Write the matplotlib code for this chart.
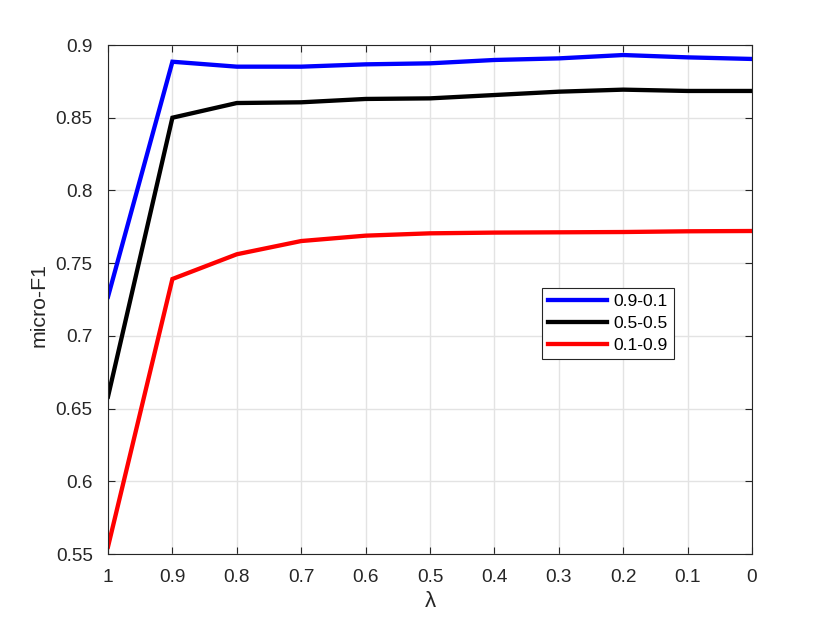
import matplotlib
matplotlib.use("Agg")
import matplotlib.pyplot as plt
import numpy as np

plt.rcParams['font.family'] = ['Liberation Sans', 'DejaVu Sans']

lam = [1.0, 0.9, 0.8, 0.7, 0.6, 0.5, 0.4, 0.3, 0.2, 0.1, 0.0]
s_09_01 = [0.7269, 0.8885, 0.8851, 0.8851, 0.8867, 0.8874, 0.8897, 0.8908, 0.8931, 0.8915, 0.8904]
s_05_05 = [0.6582, 0.8500, 0.8601, 0.8606, 0.8629, 0.8633, 0.8656, 0.8679, 0.8693, 0.8684, 0.8684]
s_01_09 = [0.5550, 0.7391, 0.7561, 0.7652, 0.7689, 0.7705, 0.7710, 0.7712, 0.7714, 0.7719, 0.7721]
series_names = ['0.9-0.1', '0.5-0.5', '0.1-0.9']
xticks = [1, 0.9, 0.8, 0.7, 0.6, 0.5, 0.4, 0.3, 0.2, 0.1, 0]
xticklabels = ['1', '0.9', '0.8', '0.7', '0.6', '0.5', '0.4', '0.3', '0.2', '0.1', '0']
yticks = [0.55, 0.6, 0.65, 0.7, 0.75, 0.8, 0.85, 0.9]
yticklabels = ['0.55', '0.6', '0.65', '0.7', '0.75', '0.8', '0.85', '0.9']

fig = plt.figure(figsize=(8.3, 6.23), dpi=100)
ax = fig.add_axes([108/830, 1-554/623, 644/830, 509/623])

colors = ['#0000ff', '#000000', '#ff0000']
for ys, c, n in zip([s_09_01, s_05_05, s_01_09], colors, series_names):
    ax.plot(lam, ys, color=c, lw=3.1, label=n, solid_joinstyle='miter')

ax.set_xlim(1, 0)
ax.set_ylim(0.55, 0.9)
ax.set_xticks(xticks)
ax.set_xticklabels(xticklabels)
ax.set_yticks(yticks)
ax.set_yticklabels(yticklabels)
ax.grid(True, color='#e3e3e3', lw=1.0)
ax.set_axisbelow(True)
for sp in ax.spines.values():
    sp.set_color('#262626')
    sp.set_linewidth(0.8)
ax.tick_params(direction='in', length=5, width=0.8, color='#262626',
               top=True, right=True, labelsize=13.7, labelcolor='#262626', pad=11)

ax.set_ylabel('micro-F1', fontsize=15.3, color='#262626')
ax.yaxis.set_label_coords(-0.092, 0.489)
ax.set_xlabel('λ', fontsize=16, color='#262626')
ax.xaxis.set_label_coords(0.5, -0.072)

leg = ax.legend(loc='upper left', bbox_to_anchor=(0.674, 0.523), borderaxespad=0,
                fontsize=12.5, fancybox=False, framealpha=1, edgecolor='#262626',
                handlelength=3.4, handletextpad=0.35, labelspacing=0.4,
                borderpad=0.35)
leg.get_frame().set_linewidth(0.8)

fig.savefig('out.png', dpi=100)
